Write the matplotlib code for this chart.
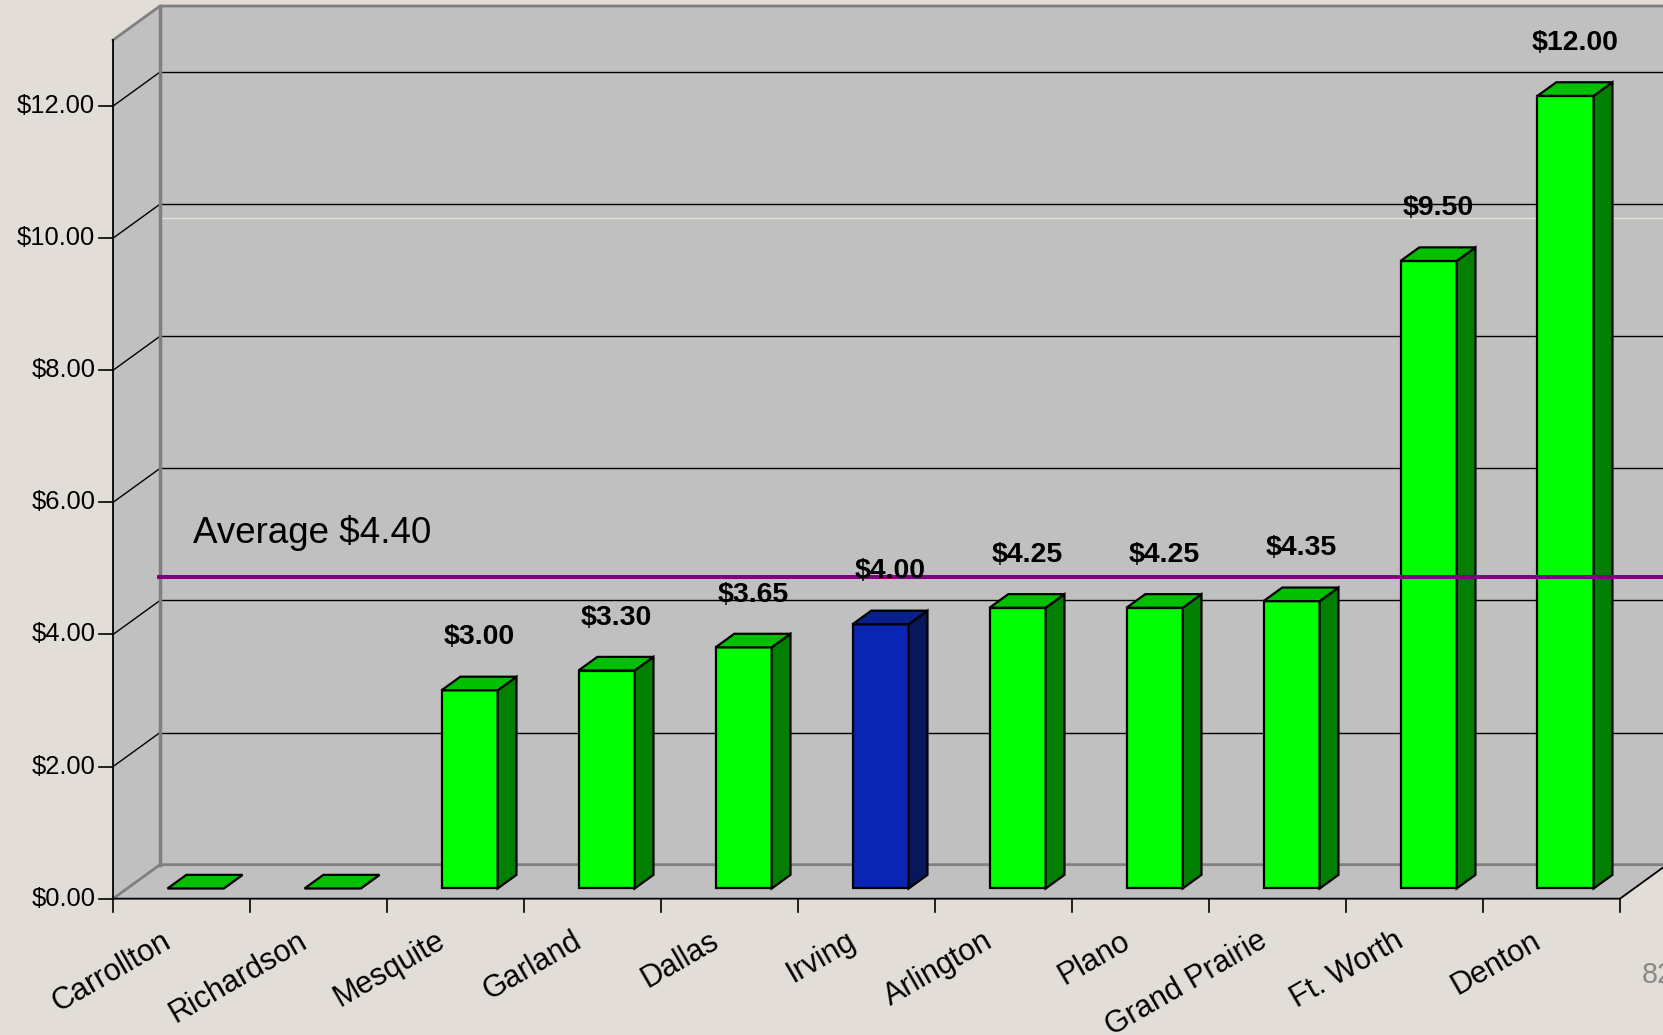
import matplotlib
matplotlib.use("Agg")
import matplotlib.pyplot as plt
from matplotlib.patches import Polygon

plt.rcParams['font.family'] = ['Liberation Sans', 'DejaVu Sans']

# fee per city
cities = ["Carrollton", "Richardson", "Mesquite", "Garland", "Dallas", "Irving",
          "Arlington", "Plano", "Grand Prairie", "Ft. Worth", "Denton"]
fees = [0.00, 0.00, 3.00, 3.30, 3.65, 4.00, 4.25, 4.25, 4.35, 9.50, 12.00]
highlight = "Irving"
average = 4.40
y_ticks = [0, 2, 4, 6, 8, 10, 12]
y_top = 13
page_no = "82"

# 3d box depth (x in categories, y in dollars) and bar placement inside it
DX, DY = 0.343, 0.515
BAR_W = 0.41
F0, F1 = 0.30, 0.70

bg = "#E2DDD6"
wall = "#C0C0C0"
edge = "#808080"
green = ("#00FF00", "#007F00", "#00C000")   # front, side, top
blue = ("#0A24B4", "#06185A", "#08208C")

fig = plt.figure(figsize=(16.63, 10.35), dpi=100, facecolor=bg)
ax = fig.add_axes([0, 0, 1, 1])
ax.set_xlim(-0.825, 11.314)
ax.set_ylim(-2.064, 13.606)
ax.axis('off')

n = len(cities)

# walls and floor
ax.add_patch(Polygon([(0, 0), (DX, DY), (DX, y_top + DY), (0, y_top)],
                     facecolor=wall, edgecolor='none', zorder=1))
ax.add_patch(Polygon([(DX, DY), (n + DX, DY), (n + DX, y_top + DY), (DX, y_top + DY)],
                     facecolor=wall, edgecolor='none', zorder=1))
ax.add_patch(Polygon([(0, 0), (n, 0), (n + DX, DY), (DX, DY)],
                     facecolor=wall, edgecolor='none', zorder=1))

# faint rule across the back wall
ax.plot([DX + 0.01, n + DX], [10.3, 10.3], color="#E6E1D6", lw=1, zorder=2)

# gridlines on back wall + side wall
for t in y_ticks[1:]:
    ax.plot([DX, n + DX], [t + DY, t + DY], color='black', lw=1, zorder=2)
    ax.plot([0, DX], [t, t + DY], color='black', lw=1, zorder=2)

# box edges
ax.plot([0, DX, n + DX], [y_top, y_top + DY, y_top + DY], color=edge, lw=2, zorder=3)
ax.plot([DX, DX], [DY, y_top + DY], color=edge, lw=2.5, zorder=3)
ax.plot([0, DX, n + DX], [0, DY, DY], color=edge, lw=2, zorder=3)
ax.plot([0, 0, n, n + DX], [y_top, 0, 0, DY], color='black', lw=1.3, zorder=3)

# y ticks and labels
for t in y_ticks:
    ax.plot([-0.1, 0], [t, t], color='black', lw=1.2, zorder=3)
    ax.text(-0.13, t, "${:.2f}".format(t), ha='right', va='center',
            fontsize=18.4, color='black')

# x ticks and labels
for i in range(n + 1):
    ax.plot([i, i], [0, -0.197], color='black', lw=1.2, zorder=3)
for i, c in enumerate(cities):
    ax.text(i + 0.5 - 0.15, -0.41, c, rotation=30, rotation_mode='anchor',
            ha='right', va='top', fontsize=22, color='black')

# bars
d = (F1 - F0) * DX
dd = (F1 - F0) * DY
y0 = F0 * DY
for i, (c, v) in enumerate(zip(cities, fees)):
    front, side, top = blue if c == highlight else green
    x0 = i + 0.5 - BAR_W / 2 + F0 * DX
    x1 = x0 + BAR_W
    kw = dict(edgecolor='black', lw=1.6, joinstyle='miter', zorder=4)
    ax.add_patch(Polygon([(x0, y0), (x1, y0), (x1, y0 + v), (x0, y0 + v)],
                         facecolor=front, **kw))
    ax.add_patch(Polygon([(x1, y0), (x1 + d, y0 + dd), (x1 + d, y0 + dd + v), (x1, y0 + v)],
                         facecolor=side, **kw))
    ax.add_patch(Polygon([(x0, y0 + v), (x1, y0 + v), (x1 + d, y0 + v + dd), (x0 + d, y0 + v + dd)],
                         facecolor=top, **kw))
    if v > 0:
        ax.text(i + 0.5 + F0 * DX + d / 2, y0 + v + 0.8, "${:.2f}".format(v),
                ha='center', va='center', fontsize=20.5, fontweight='bold',
                color='black', zorder=6)

# average line, drawn just in front of the back wall
avg_y = average + 0.9 * DY
ax.plot([DX - 0.02, n + DX], [avg_y, avg_y], color='#800080',
        lw=2.9, zorder=5, solid_capstyle='butt')
ax.text(DX + 0.24, avg_y + 0.52, "Average ${:.2f}".format(average),
        ha='left', va='baseline', fontsize=26.5, color='black', zorder=6)

# page number
ax.text(11.16, -1.155, page_no, ha='left', va='center', fontsize=20.7,
        color='#8A8A8A')

fig.savefig("out.png", dpi=100, facecolor=bg)
